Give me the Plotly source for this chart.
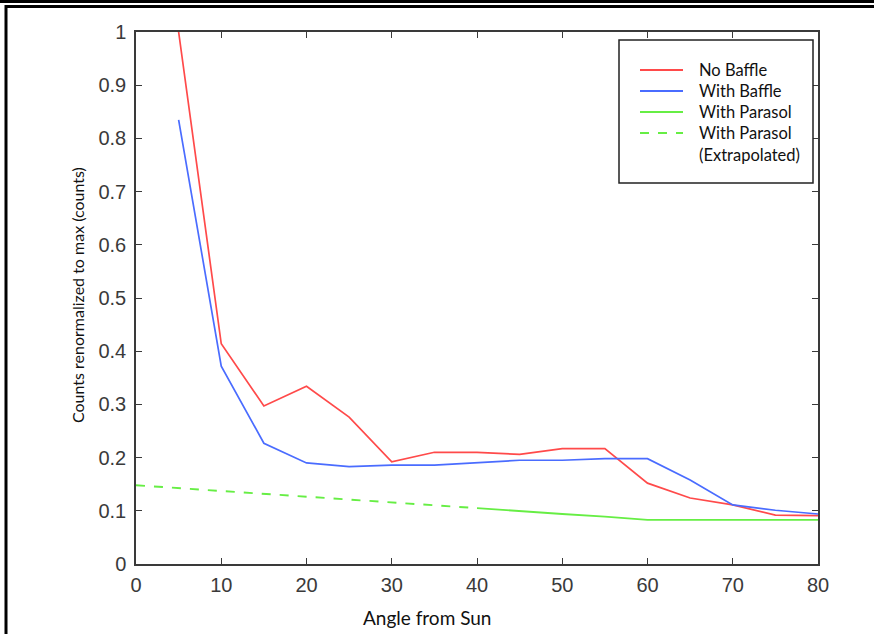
import plotly.graph_objects as go

angles = [5, 10, 15, 20, 25, 30, 35, 40, 45, 50, 55, 60, 65, 70, 75, 80]
no_baffle = [1.0, 0.414, 0.297, 0.334, 0.276, 0.192, 0.210, 0.210, 0.206, 0.217, 0.217, 0.152, 0.124, 0.111, 0.092, 0.091]
with_baffle = [0.835, 0.372, 0.227, 0.190, 0.183, 0.186, 0.186, 0.190, 0.195, 0.195, 0.198, 0.198, 0.158, 0.111, 0.101, 0.094]
parasol_angles = [40, 45, 50, 55, 60, 65, 70, 75, 80]
with_parasol = [0.105, 0.099, 0.094, 0.089, 0.083, 0.083, 0.083, 0.083, 0.083]
extrap_angles = [0, 40]
extrap_parasol = [0.148, 0.105]

x_ticks = [0, 10, 20, 30, 40, 50, 60, 70, 80]
y_ticks = [0, 0.1, 0.2, 0.3, 0.4, 0.5, 0.6, 0.7, 0.8, 0.9, 1]
y_ticklabels = ["0", "0.1", "0.2", "0.3", "0.4", "0.5", "0.6", "0.7", "0.8", "0.9", "1"]

legend_names = ["No Baffle", "With Baffle", "With Parasol", "With Parasol", "(Extrapolated)"]

RED, BLUE, GREEN = "#ff4a4a", "#4a6cff", "#66ee44"

fig = go.Figure()
fig.add_trace(go.Scatter(x=angles, y=no_baffle, mode="lines", name=legend_names[0],
                         line=dict(color=RED, width=1.7)))
fig.add_trace(go.Scatter(x=angles, y=with_baffle, mode="lines", name=legend_names[1],
                         line=dict(color=BLUE, width=1.7)))
fig.add_trace(go.Scatter(x=parasol_angles, y=with_parasol, mode="lines", name=legend_names[2],
                         line=dict(color=GREEN, width=1.9)))
fig.add_trace(go.Scatter(x=extrap_angles, y=extrap_parasol, mode="lines",
                         name=legend_names[3] + " " + legend_names[4],
                         line=dict(color=GREEN, width=1.9, dash="dash")))

W, H = 874, 634
L, R, T, B = 136, 818, 32, 564
pw, ph = R - L, B - T

def px(xp):
    return (xp - L) / pw

def py(yp):
    return (B - yp) / ph

axis_common = dict(showline=True, linecolor="#3a3a3a", linewidth=1.5, mirror="ticks",
                   ticks="inside", ticklen=6, tickwidth=1.3, tickcolor="#3a3a3a",
                   showgrid=False, zeroline=False,
                   tickfont=dict(family="Liberation Sans, Arial", size=20, color="#3a3a3a"))

text_font = dict(family="Lato, Open Sans", color="#111")

annotations = [
    dict(text="Angle from Sun", x=px(427), y=py(617), xref="paper", yref="paper",
         showarrow=False, xanchor="center", yanchor="middle",
         font=dict(size=19, **text_font)),
    dict(text="Counts renormalized to max (counts)", x=px(77), y=py(295),
         xref="paper", yref="paper", showarrow=False, textangle=-90,
         xanchor="center", yanchor="middle",
         font=dict(size=16, **text_font)),
]

shapes = [
    # outer frame of the picture
    dict(type="line", xref="paper", yref="paper", x0=px(0), x1=px(W), y0=py(1.5), y1=py(1.5),
         line=dict(color="black", width=3)),
    dict(type="line", xref="paper", yref="paper", x0=px(5), x1=px(W), y0=py(6.5), y1=py(6.5),
         line=dict(color="black", width=3)),
    dict(type="line", xref="paper", yref="paper", x0=px(6), x1=px(6), y0=py(5), y1=py(H),
         line=dict(color="black", width=3)),
    # legend box
    dict(type="rect", xref="paper", yref="paper", x0=px(619), x1=px(813), y0=py(183), y1=py(40),
         fillcolor="white", line=dict(color="#222", width=1.5), layer="above"),
]

legend_rows_y = [70, 91, 112, 133, 155]
legend_colors = [RED, BLUE, GREEN, GREEN, None]
legend_dash = ["solid", "solid", "solid", "dash", None]
for name, yy, col, dsh in zip(legend_names, legend_rows_y, legend_colors, legend_dash):
    if col is not None:
        shapes.append(dict(type="line", xref="paper", yref="paper", x0=px(640), x1=px(683),
                           y0=py(yy), y1=py(yy), layer="above",
                           line=dict(color=col, width=2, dash=dsh)))
    annotations.append(dict(text=name, x=px(697), y=py(yy), xref="paper", yref="paper",
                            showarrow=False, xanchor="left", yanchor="middle",
                            font=dict(size=16.5, **text_font)))

fig.update_layout(
    width=W, height=H,
    margin=dict(l=L, r=W - R, t=T, b=H - B),
    paper_bgcolor="white", plot_bgcolor="white",
    xaxis=dict(range=[0, 80], tickvals=x_ticks, ticklabelstandoff=2, **axis_common),
    yaxis=dict(range=[0, 1], tickvals=y_ticks, ticktext=y_ticklabels, ticklabelstandoff=4, **axis_common),
    showlegend=False,
    annotations=annotations,
    shapes=shapes,
)

fig.write_html("out.html", config={"displayModeBar": False},
               post_script="document.body.style.margin='0';document.body.style.overflow='hidden';")
